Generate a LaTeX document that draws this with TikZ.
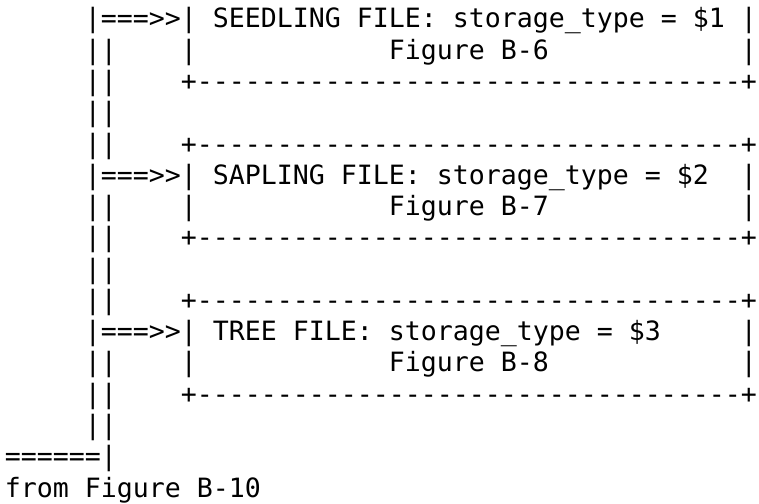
\documentclass[tikz,border=0pt]{standalone}
\usepackage{fontspec}
\setmonofont{DejaVu Sans Mono}
\usepackage{tikz}
\definecolor{asciiink}{RGB}{0,0,0}
\newcommand{\boxrule}{+----------------------------------+}
\tikzset{
  asciiline/.style={anchor=base west, inner sep=0pt, outer sep=0pt,
                    text=asciiink, font=\ttfamily\fontsize{26.58bp}{31.27bp}\selectfont},
}
\begin{document}
\begin{tikzpicture}[x=1bp, y=-1bp]
  \useasboundingbox (0,0) rectangle (759,504);
  % one node per printed line: row/column/text
  \foreach \r/\c/\txt in {
      1/5/{|===>>| SEEDLING FILE: storage\_type = \$1 |},
      2/5/{||~~~~|~~~~~~~~~~~~Figure B-6~~~~~~~~~~~~|},
      3/5/{||~~~~\boxrule},
      4/5/{||},
      5/5/{||~~~~\boxrule},
      6/5/{|===>>| SAPLING FILE: storage\_type = \$2~~|},
      7/5/{||~~~~|~~~~~~~~~~~~Figure B-7~~~~~~~~~~~~|},
      8/5/{||~~~~\boxrule},
      9/5/{||},
      10/5/{||~~~~\boxrule},
      11/5/{|===>>| TREE FILE: storage\_type = \$3~~~~~|},
      12/5/{||~~~~|~~~~~~~~~~~~Figure B-8~~~~~~~~~~~~|},
      13/5/{||~~~~\boxrule},
      14/5/{||},
      15/0/{======|},
      16/0/{from Figure B-10}}{
    \node[asciiline] (row\r) at ({4.8+16.0*\c},{28+31.27*(\r-1)}) {\txt};
  }
\end{tikzpicture}
\end{document}
